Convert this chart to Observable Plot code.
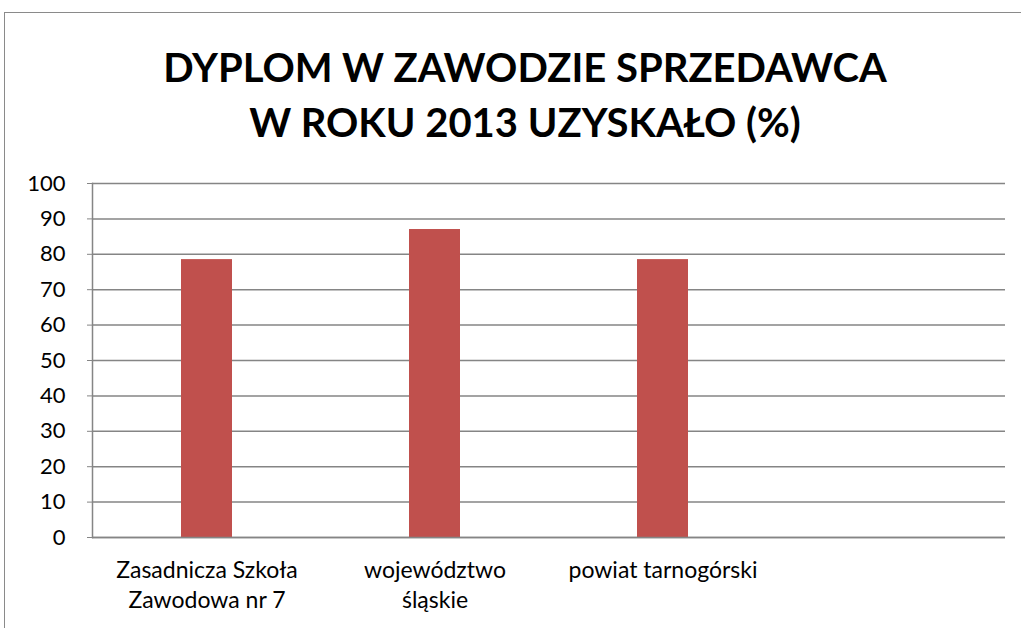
<!DOCTYPE html>
<html>
<head>
<meta charset="utf-8">
<script src="https://cdn.jsdelivr.net/npm/d3@7"></script>
<script src="https://cdn.jsdelivr.net/npm/@observablehq/plot@0.6"></script>
<style>
  html, body { margin: 0; padding: 0; background: #fff; }
  #wrap { position: relative; width: 1021px; height: 628px; overflow: hidden; font-family: Lato, "Open Sans", sans-serif; }
  #frame { position: absolute; left: 4px; top: 12px; width: 1100px; height: 700px; border-left: 1.5px solid #8a8a8a; border-top: 1.5px solid #8a8a8a; box-sizing: border-box; }
  #title { position: absolute; left: 0; top: 40px; width: 1050px; text-align: center; font-weight: bold; font-size: 40px; line-height: 55px; color: #000; }
  #chart { position: absolute; left: 0; top: 160px; }
</style>
</head>
<body>
<div id="wrap">
  <div id="frame"></div>
  <div id="title">DYPLOM W ZAWODZIE SPRZEDAWCA<br>W ROKU 2013 UZYSKAŁO (%)</div>
  <div id="chart"></div>
</div>
<script>
const categories = ["Zasadnicza Szkoła\nZawodowa nr 7", "województwo\nśląskie", "powiat tarnogórski", ""];
const values = [78.5, 87, 78.5];
const yTicks = [0, 10, 20, 30, 40, 50, 60, 70, 80, 90, 100];

const data = values.map((v, i) => ({ category: categories[i], value: v }));

const plot = Plot.plot({
  width: 1021,
  height: 468,
  marginTop: 23,
  marginBottom: 91,
  marginLeft: 92,
  marginRight: 16,
  style: { fontFamily: "Lato, 'Open Sans', sans-serif", fontSize: "22px", color: "#000", background: "transparent" },
  x: { domain: categories, paddingInner: 0.776, paddingOuter: 0.388, label: null },
  y: { domain: [0, 100], label: null },
  marks: [
    Plot.gridY(yTicks, { stroke: "#858585", strokeOpacity: 1, strokeWidth: 1.5 }),
    Plot.barY(data, { x: "category", y: "value", fill: "#C0504D" }),
    Plot.ruleY([0], { stroke: "#858585", strokeWidth: 1.5 }),
    Plot.frame({ anchor: "left", stroke: "#858585", strokeWidth: 1.5 }),
    Plot.axisY(yTicks, { tickSize: 5, tickPadding: 22, stroke: "#858585", fill: "#000", fontSize: 22, label: null }),
    Plot.axisX({ tickSize: 0, tickPadding: 19, fill: "#000", fontSize: 23, lineHeight: 1.3, label: null })
  ]
});
document.getElementById("chart").appendChild(plot);
</script>
</body>
</html>
